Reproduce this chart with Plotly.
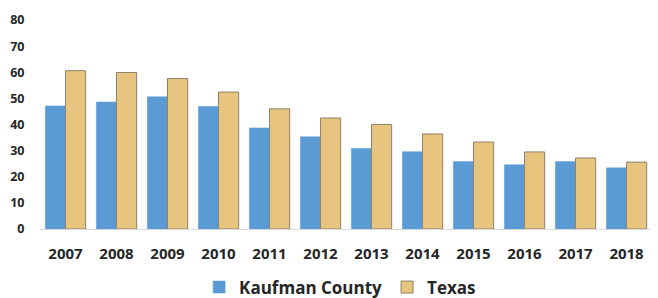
import plotly.graph_objects as go

years = ["2007", "2008", "2009", "2010", "2011", "2012", "2013", "2014", "2015", "2016", "2017", "2018"]
kaufman = [47.1, 48.6, 50.6, 46.9, 38.7, 35.3, 30.8, 29.6, 25.8, 24.6, 25.8, 23.4]
texas = [60.6, 59.9, 57.6, 52.4, 46.0, 42.5, 40.0, 36.4, 33.3, 29.5, 27.2, 25.6]
y_ticks = [0, 10, 20, 30, 40, 50, 60, 70, 80]

fig = go.Figure()
fig.add_trace(go.Bar(
    x=years, y=kaufman, name="Kaufman County",
    marker=dict(color="#5B9BD5", line=dict(color="#5B9BD5", width=0.5)),
))
fig.add_trace(go.Bar(
    x=years, y=texas, name="Texas",
    marker=dict(color="#E8C57E", line=dict(color="#8F8069", width=1)),
))

# the page body adds an 8px margin, so the figure is offset to fit the 658x298 window
fig.update_layout(
    width=642, height=298,
    margin=dict(l=32, r=0, t=12, b=77),
    paper_bgcolor="white", plot_bgcolor="white",
    barmode="group", bargap=0.21, bargroupgap=0.0,
    font=dict(family="Open Sans, Liberation Sans, sans-serif", color="#262626"),
    showlegend=True,
    legend=dict(
        orientation="h", x=0.492, xanchor="center", y=-0.28, yanchor="middle",
        font=dict(size=17, color="#262626", weight="bold"),
        itemwidth=30, traceorder="normal",
    ),
    xaxis=dict(
        type="category", range=[-0.5, 11.46], automargin=False,
        showgrid=False, showline=True, linecolor="#D9D9D9", linewidth=1,
        ticks="outside", ticklen=11, tickcolor="rgba(0,0,0,0)",
        tickfont=dict(size=15, weight="bold", color="#262626"),
    ),
    yaxis=dict(
        range=[0, 80], tickvals=y_ticks, showgrid=False, zeroline=False,
        showline=False, automargin=False,
        ticks="outside", ticklen=12, tickcolor="rgba(0,0,0,0)",
        tickfont=dict(size=12.5, weight="bold", color="#262626"),
    ),
)

fig.write_html("out.html")
